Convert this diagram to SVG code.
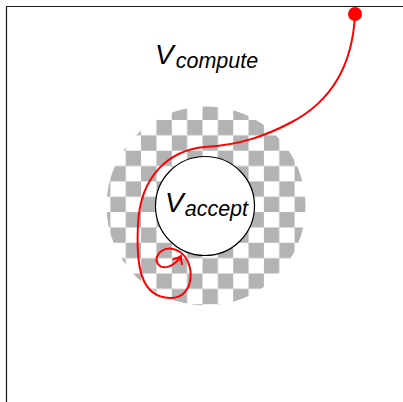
<svg xmlns="http://www.w3.org/2000/svg" width="403" height="402" viewBox="0 0 403 402">
<style>
.axis{stroke:#1a1a1a;stroke-width:1.2;fill:none}
.lbl{font-family:"Liberation Sans",Arial,sans-serif;font-style:italic;fill:#000}
.big{font-size:28px}
.sub{font-size:21.5px}
.path{stroke:#ff0000;stroke-width:2;fill:none}
</style>
<defs>
<pattern id="checker" patternUnits="userSpaceOnUse" x="202.5" y="120" width="30.7" height="30.7">
<rect x="0" y="0" width="30.7" height="30.7" fill="#ffffff"/>
<rect x="15.35" y="0" width="15.35" height="15.35" fill="#b3b3b3"/>
<rect x="0" y="15.35" width="15.35" height="15.35" fill="#b3b3b3"/>
</pattern>
<marker id="arrow" markerUnits="userSpaceOnUse" markerWidth="14" markerHeight="14" refX="1" refY="0" viewBox="-8 -7 10 14" orient="auto">
<path d="M-5.5,-5 Q-1.5,-1 1,0 Q-1.5,1 -5.5,5" stroke="#ff0000" stroke-width="2" fill="none" stroke-linecap="round"/>
</marker>
</defs>
<g id="axes">
<line class="axis" x1="6.5" y1="6.5" x2="403" y2="6.5"/>
<line class="axis" x1="6.5" y1="6" x2="6.5" y2="402"/>
</g>
<g id="compute-region">
<circle cx="206" cy="206" r="99.5" fill="url(#checker)"/>
<text class="lbl" x="155" y="63.5"><tspan class="big">V</tspan><tspan class="sub" dx="2" dy="4">compute</tspan></text>
</g>
<g id="accept-region">
<circle cx="205" cy="206" r="49.5" fill="#ffffff" stroke="#000" stroke-width="1.2"/>
<text class="lbl" x="165" y="211.5"><tspan class="big">V</tspan><tspan class="sub" dx="1" dy="4">accept</tspan></text>
</g>
<g id="start">
<circle cx="355" cy="14" r="7" fill="#ff0000"/>
</g>
<g id="connectors">
<path class="path" marker-end="url(#arrow)" d="M355,14 C353,60 335,100 290,123 C265,136 240,145 205,147 C170,150 140,175 138,225 C136,265 140,297 170,298 C195,299 196,262 180,252 C165,243 152,255 158,264 C163,271 175,266 181,256"/>
</g>
</svg>
